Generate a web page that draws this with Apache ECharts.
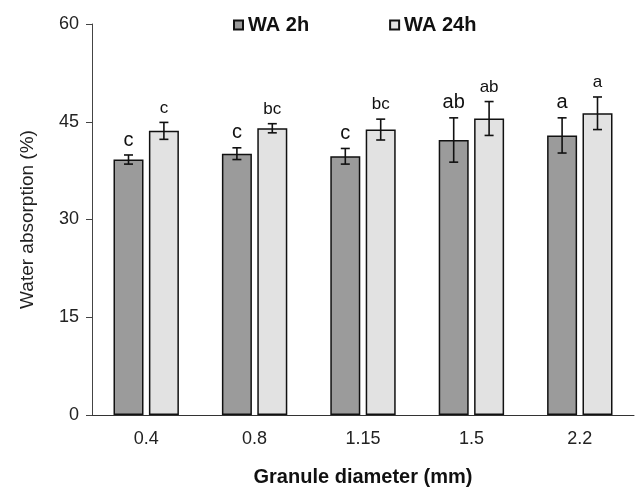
<!DOCTYPE html>
<html>
<head>
<meta charset="utf-8">
<script src="https://cdn.jsdelivr.net/npm/echarts@6/dist/echarts.min.js"></script>
<style>
  html, body { margin: 0; padding: 0; background: #fff; }
  #chart { width: 635px; height: 492px; }
</style>
</head>
<body>
<div id="chart"></div>
<script>
// Granule diameters (mm)
const categories = ['0.4', '0.8', '1.15', '1.5', '2.2'];
// Water absorption (%) after 2 h and 24 h, with standard deviations
const wa2h = [39.2, 40.1, 39.7, 42.2, 42.9];
const wa2hErr = [0.7, 0.9, 1.2, 3.4, 2.7];
const wa24h = [43.6, 44.0, 43.8, 45.5, 46.3];
const wa24hErr = [1.3, 0.7, 1.6, 2.6, 2.5];
// Significance letters
const wa2hLetters = ['c', 'c', 'c', 'ab', 'a'];
const wa24hLetters = ['c', 'bc', 'bc', 'ab', 'a'];
// Y-axis ticks
const yMin = 0, yMax = 60, yStep = 15;

const FONT = 'Liberation Sans, Arial, sans-serif';
const BAR_W = 30;
const BAR_GAP = 0.18;
const HALF_SHIFT = (BAR_W + BAR_W * BAR_GAP) / 2;

// Error bars with the significance letter above each one
function errorSeries(name, means, errs, letters, shift, fontSize, lift) {
  return {
    type: 'custom',
    name: name + ' err',
    z: 5,
    silent: true,
    encode: { x: 0, y: 1 },
    data: means.map((m, i) => [i, m, errs[i]]),
    renderItem: function (params, api) {
      const i = api.value(0);
      const m = api.value(1);
      const e = api.value(2);
      const top = api.coord([i, m + e]);
      const bot = api.coord([i, m - e]);
      const cx = top[0] + shift;
      const cap = 4.5;
      const line = { stroke: '#111', lineWidth: 1.6 };
      return {
        type: 'group',
        children: [
          { type: 'line', shape: { x1: cx, y1: top[1], x2: cx, y2: bot[1] }, style: line },
          { type: 'line', shape: { x1: cx - cap, y1: top[1], x2: cx + cap, y2: top[1] }, style: line },
          { type: 'line', shape: { x1: cx - cap, y1: bot[1], x2: cx + cap, y2: bot[1] }, style: line },
          {
            type: 'text', x: cx, y: top[1] - lift,
            style: {
              text: letters[params.dataIndex], fill: '#111',
              fontSize: fontSize, fontFamily: FONT,
              align: 'center', verticalAlign: 'bottom'
            }
          }
        ]
      };
    }
  };
}

const chart = echarts.init(document.getElementById('chart'), null, { renderer: 'canvas' });
chart.setOption({
  animation: false,
  backgroundColor: '#fff',
  textStyle: { fontFamily: FONT },
  grid: { left: 92, right: 1, top: 24, bottom: 70, containLabel: false },
  legend: {
    data: ['WA 2h', 'WA 24h'],
    left: 228, top: 10,
    itemWidth: 9, itemHeight: 9, itemGap: 80,
    icon: 'rect',
    textStyle: { fontFamily: FONT, fontSize: 20, fontWeight: 'bold', color: '#111' }
  },
  xAxis: {
    type: 'category',
    data: categories,
    axisTick: { show: false },
    axisLine: { lineStyle: { color: '#333', width: 1 } },
    axisLabel: { fontSize: 18, color: '#222', margin: 15, fontFamily: FONT },
    name: 'Granule diameter (mm)',
    nameLocation: 'middle',
    nameGap: 52,
    nameTextStyle: { fontSize: 20, fontWeight: 'bold', color: '#111', fontFamily: FONT }
  },
  yAxis: {
    type: 'value',
    min: yMin, max: yMax, interval: yStep,
    axisLine: { show: true, lineStyle: { color: '#444', width: 1 } },
    axisTick: { show: true, length: 6, lineStyle: { color: '#444' } },
    axisLabel: { fontSize: 18, color: '#222', margin: 13, fontFamily: FONT },
    splitLine: { show: false },
    name: 'Water absorption (%)',
    nameLocation: 'middle',
    nameGap: 55,
    nameTextStyle: { fontSize: 19, color: '#222', fontFamily: FONT }
  },
  series: [
    {
      name: 'WA 2h', type: 'bar', data: wa2h,
      barWidth: BAR_W, barGap: (BAR_GAP * 100) + '%',
      itemStyle: { color: '#9b9b9b', borderColor: '#111', borderWidth: 1.5 }
    },
    {
      name: 'WA 24h', type: 'bar', data: wa24h,
      barWidth: BAR_W,
      itemStyle: { color: '#e2e2e2', borderColor: '#111', borderWidth: 1.5 }
    },
    errorSeries('WA 2h', wa2h, wa2hErr, wa2hLetters, -HALF_SHIFT, 20, 5),
    errorSeries('WA 24h', wa24h, wa24hErr, wa24hLetters, HALF_SHIFT, 17, 6)
  ]
});
</script>
</body>
</html>
